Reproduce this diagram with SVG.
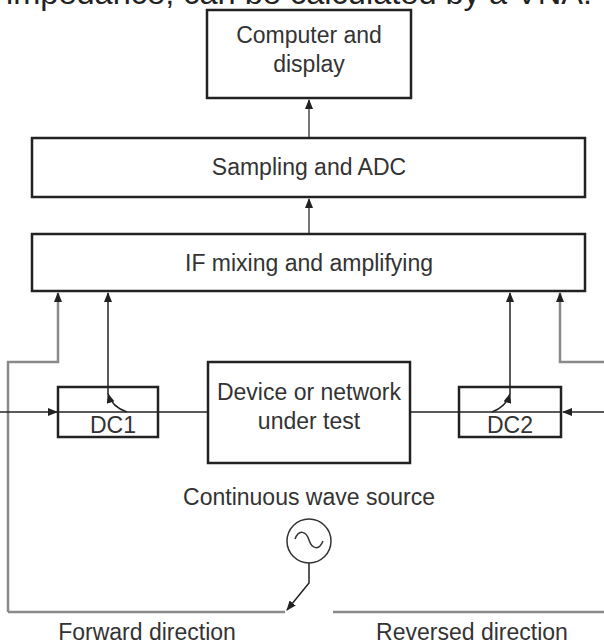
<svg xmlns="http://www.w3.org/2000/svg" width="604" height="644" viewBox="0 0 604 644">
  <style>
    .box { fill: #ffffff; stroke: #222222; stroke-width: 2.5; }
    .lbl { font-family: "Liberation Sans", Arial, sans-serif; font-size: 23px; fill: #333333; text-anchor: middle; }
    .sig { fill: none; stroke: #222222; stroke-width: 1.5; }
    .loop { fill: none; stroke: #8a8a8a; stroke-width: 2.5; }
    .feed { fill: none; stroke: #777777; stroke-width: 2; }
  </style>
  <defs>
    <marker id="ah" markerUnits="userSpaceOnUse" markerWidth="10" markerHeight="8" refX="9" refY="4" orient="auto">
      <path d="M0,0 L10,4 L0,8 Z" fill="#222222"/>
    </marker>
  </defs>
  <rect width="604" height="644" fill="#ffffff"/>

  <!-- running text of the page, cropped by the top edge -->
  <text x="6" y="4" font-family="Liberation Sans, Arial, sans-serif" font-size="32" fill="#222222" textLength="586" lengthAdjust="spacingAndGlyphs">impedance, can be calculated by a VNA.</text>

  <g id="connectors">
    <!-- processing chain -->
    <path class="feed" d="M309,234 V199" marker-end="url(#ah)"/>
    <path class="feed" d="M309,138 V100" marker-end="url(#ah)"/>
    <!-- outer switching loops -->
    <path class="loop" d="M8,612 V362 H58 V293" marker-end="url(#ah)"/>
    <path class="loop" d="M604,362 H560 V293" marker-end="url(#ah)"/>
    <path class="loop" d="M8,612 H285"/>
    <path class="loop" d="M333,612 H604"/>
    <!-- main through path -->
    <path class="sig" d="M0,412 H57" marker-end="url(#ah)"/>
    <path class="sig" d="M58,412 H208"/>
    <path class="sig" d="M410,412 H561"/>
    <path class="sig" d="M604,412 H563" marker-end="url(#ah)"/>
    <!-- coupled outputs -->
    <path class="sig" d="M127,412 Q112,407 108,394" marker-end="url(#ah)"/>
    <path class="sig" d="M108,394 V293" marker-end="url(#ah)"/>
    <path class="sig" d="M492,412 Q506,407 510,394" marker-end="url(#ah)"/>
    <path class="sig" d="M510,394 V293" marker-end="url(#ah)"/>
    <!-- source switch -->
    <path class="sig" d="M309,563 V583 L287,610" marker-end="url(#ah)"/>
  </g>

  <g id="computer">
    <rect class="box" x="207" y="10" width="204" height="88"/>
    <text class="lbl" x="309" y="43">Computer and</text>
    <text class="lbl" x="309" y="72">display</text>
  </g>
  <g id="sampling">
    <rect class="box" x="32" y="138" width="553" height="59"/>
    <text class="lbl" x="309" y="175">Sampling and ADC</text>
  </g>
  <g id="if-stage">
    <rect class="box" x="32" y="234" width="553" height="57"/>
    <text class="lbl" x="309" y="271">IF mixing and amplifying</text>
  </g>
  <g id="dc1">
    <rect class="box" x="58" y="387" width="100" height="50" style="fill:none"/>
    <text class="lbl" x="113" y="433">DC1</text>
  </g>
  <g id="dut">
    <rect class="box" x="208" y="362" width="202" height="101"/>
    <text class="lbl" x="309" y="400">Device or network</text>
    <text class="lbl" x="309" y="429">under test</text>
  </g>
  <g id="dc2">
    <rect class="box" x="459" y="387" width="102" height="50" style="fill:none"/>
    <text class="lbl" x="510" y="433">DC2</text>
  </g>
  <g id="source">
    <text class="lbl" x="309" y="505">Continuous wave source</text>
    <circle cx="309" cy="541" r="22" fill="none" stroke="#333333" stroke-width="1.5"/>
    <path d="M295,539 C299,529 306,531 309,540 C312,549 319,551 323,541" fill="none" stroke="#333333" stroke-width="1.5"/>
  </g>
  <g id="directions">
    <text class="lbl" x="147" y="640">Forward direction</text>
    <text class="lbl" x="472" y="640">Reversed direction</text>
  </g>
</svg>
